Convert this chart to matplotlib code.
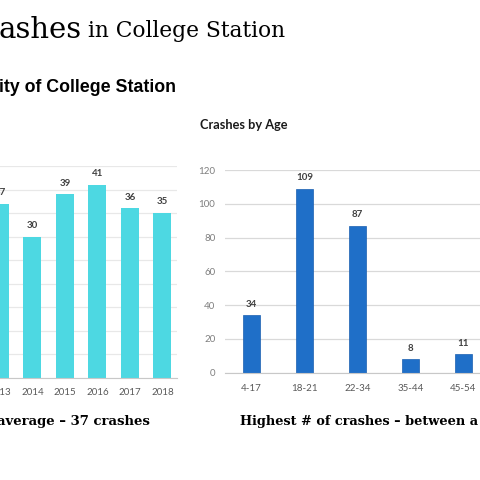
import matplotlib.pyplot as plt

# Dados
anos = [2013, 2014, 2015, 2016, 2017, 2018]
acidentes_ano = [37, 30, 39, 41, 36, 35]
faixas = ['4-17', '18-21', '22-34', '35-44', '45-54']
acidentes_idade = [34, 109, 87, 8, 11]

W = 480.0
fig = plt.figure(figsize=(4.8, 4.8), dpi=100)
fig.patch.set_facecolor('white')

def px(x0, x1, ytop, ybot):
    return [x0 / W, 1 - ybot / W, (x1 - x0) / W, (ybot - ytop) / W]

# Textos do slide
fig.text(-2 / W, 1 - 30 / W, 'ashes', fontsize=21, family='DejaVu Serif', va='center', ha='left')
fig.text(88 / W, 1 - 31 / W, 'in College Station', fontsize=15.7, family='DejaVu Serif', va='center', ha='left')
fig.text(-1 / W, 1 - 87 / W, 'ity of College Station', fontsize=12.8, family='Liberation Sans',
         weight='bold', va='center', ha='left')
fig.text(-3 / W, 1 - 422 / W, 'average \u2013 37 crashes', fontsize=9.5, family='DejaVu Serif',
         weight='bold', va='center', ha='left')
fig.text(240 / W, 1 - 422 / W, 'Highest # of crashes \u2013 between a', fontsize=9.3, family='DejaVu Serif',
         weight='bold', va='center', ha='left')

# Grafico esquerdo - por ano
passo = 32.5
L1, R1 = -60, 177
ax1 = fig.add_axes(px(L1, R1, 166, 378))
ax1.bar(anos, acidentes_ano, width=18 / passo, color='#4dd8e2')
ax1.set_xlim(2013 + L1 / passo, 2013 + R1 / passo)
ax1.set_ylim(0, 45)
ax1.set_yticks(range(0, 46, 5))
ax1.set_yticklabels([])
ax1.tick_params(axis='y', length=0)
ax1.grid(axis='y', color='#e8e8e8', lw=0.9)
ax1.set_axisbelow(True)
ax1.set_xticks(anos)
ax1.set_xticklabels([str(a) for a in anos], family='Lato', fontsize=7, color='#595959')
ax1.tick_params(axis='x', length=0, pad=7)
for s in ['top', 'right', 'left']:
    ax1.spines[s].set_visible(False)
ax1.spines['bottom'].set_color('#c8c8c8')
for a, v in zip(anos, acidentes_ano):
    ax1.annotate(str(v), (a, v), xytext=(0, 8), textcoords='offset points', ha='center', va='center',
                 fontsize=7, family='Lato', weight='bold', color='#404040')

# Grafico direito - por idade
passo2 = 53.0
L2, R2 = 225, 640
ax2 = fig.add_axes(px(L2, R2, 170, 372.7))
x2 = list(range(len(faixas)))
ax2.bar(x2, acidentes_idade, width=17 / passo2, color='#1f6fc8', edgecolor='#1a5fb0', lw=0.5)
ax2.set_xlim(-0.5, -0.5 + (R2 - L2) / passo2)
ax2.set_ylim(0, 120)
ax2.set_yticks(range(0, 121, 20))
ax2.tick_params(axis='y', length=0, pad=7, labelsize=7, labelcolor='#7f7f7f')
for t in ax2.get_yticklabels():
    t.set_family('Lato')
ax2.grid(axis='y', color='#d9d9d9', lw=0.9)
ax2.set_axisbelow(True)
ax2.set_xticks(x2)
ax2.set_xticklabels(faixas, family='Lato', fontsize=7, color='#595959')
ax2.tick_params(axis='x', length=0, pad=8)
for s in ['top', 'right', 'left']:
    ax2.spines[s].set_visible(False)
ax2.spines['bottom'].set_color('#c8c8c8')
for i, v in zip(x2, acidentes_idade):
    ax2.annotate(str(v), (i, v), xytext=(0, 8), textcoords='offset points', ha='center', va='center',
                 fontsize=7, family='Lato', weight='bold', color='#404040')

fig.text(200 / W, 1 - 125 / W, 'Crashes by Age', fontsize=9.2, family='Lato', weight='bold',
         va='center', ha='left', color='#1a1a1a')

fig.savefig('out.png', dpi=100)
